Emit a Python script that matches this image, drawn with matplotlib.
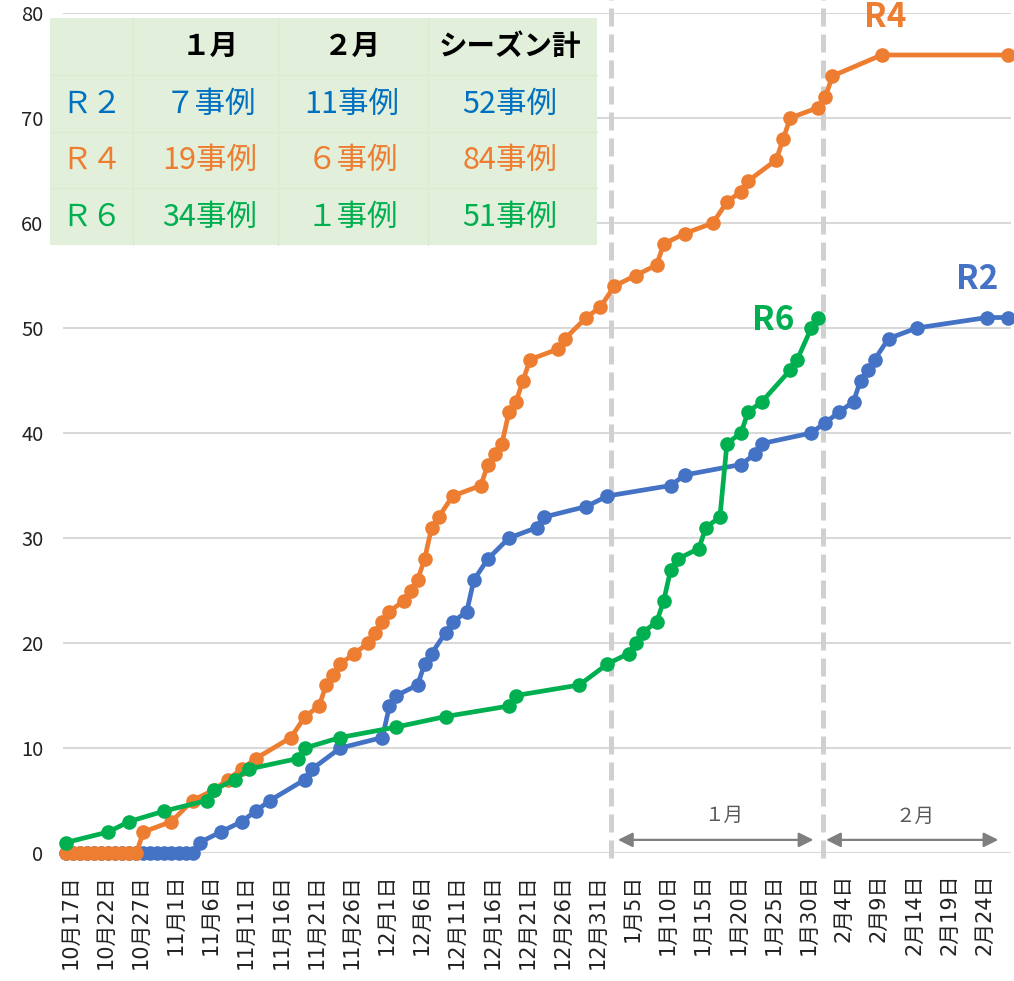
import numpy as np
import matplotlib
matplotlib.use('Agg')
import matplotlib.pyplot as plt
from matplotlib.patches import Rectangle

plt.rcParams['font.family'] = ['Noto Sans CJK JP', 'DejaVu Sans']

# day index: 0 = 10月17日
r2_days = list(range(0, 19)) + [19, 22, 25, 27, 29, 34, 35, 39, 45, 46, 47, 50, 51, 52, 54, 55, 57, 58,
                                 60, 63, 67, 68, 74, 77, 86, 88, 96, 98, 99, 106, 108, 110, 112, 113,
                                 114, 115, 117, 121, 131, 134]
r2_vals = [0] * 19 + [1, 2, 3, 4, 5, 7, 8, 10, 11, 14, 15, 16, 18, 19, 21, 22, 23, 26,
                      28, 30, 31, 32, 33, 34, 35, 36, 37, 38, 39, 40, 41, 42, 43, 45,
                      46, 47, 49, 50, 51, 51]

r4_days = list(range(0, 11)) + [11, 15, 18, 21, 23, 25, 27, 32, 34, 36, 37, 38, 39, 41, 43, 44, 45, 46,
                                 48, 49, 50, 51, 52, 53, 55, 59, 60, 61, 62, 63, 64, 65, 66, 70, 71,
                                 74, 76, 78, 81, 84, 85, 88, 92, 94, 96, 97, 101, 102, 103, 107, 108,
                                 109, 116, 134]
r4_vals = [0] * 11 + [2, 3, 5, 6, 7, 8, 9, 11, 13, 14, 16, 17, 18, 19, 20, 21, 22, 23,
                      24, 25, 26, 28, 31, 32, 34, 35, 37, 38, 39, 42, 43, 45, 47, 48, 49,
                      51, 52, 54, 55, 56, 58, 59, 60, 62, 63, 64, 66, 68, 70, 71, 72,
                      74, 76, 76]

r6_days = [0, 6, 9, 14, 20, 21, 24, 26, 33, 34, 39, 47, 54, 63, 64, 73, 77, 80, 81, 82, 84, 85, 86,
           87, 90, 91, 93, 94, 96, 97, 99, 103, 104, 106, 107]
r6_vals = [1, 2, 3, 4, 5, 6, 7, 8, 9, 10, 11, 12, 13, 14, 15, 16, 18, 19, 20, 21, 22, 24, 27,
           28, 29, 31, 32, 39, 40, 42, 43, 46, 47, 50, 51]

tick_days = list(range(0, 131, 5))
tick_labels = ['10月17日', '10月22日', '10月27日', '11月1日', '11月6日', '11月11日', '11月16日',
               '11月21日', '11月26日', '12月1日', '12月6日', '12月11日', '12月16日', '12月21日',
               '12月26日', '12月31日', '1月5日', '1月10日', '1月15日', '1月20日', '1月25日',
               '1月30日', '2月4日', '2月9日', '2月14日', '2月19日', '2月24日']

# summary table
seasons = ['Ｒ２', 'Ｒ４', 'Ｒ６']
jan_cases = [7, 19, 34]
feb_cases = [11, 6, 1]
season_total = [52, 84, 51]
headers = ['１月', '２月', 'シーズン計']

blue = '#4472C4'
orange = '#ED7D31'
green = '#00B050'
table_colors = ['#0070C0', '#ED7D31', '#00B050']


def zen(n):
    # single digits are written full width in the source table
    if n < 10:
        return chr(ord('０') + n)
    return str(n)


W, H = 1014, 981
fig = plt.figure(figsize=(W / 100, H / 100), dpi=100)
ax = fig.add_axes([63 / W, 1 - 853 / H, 948 / W, 840 / H])

for d, v, c in [(r2_days, r2_vals, blue), (r4_days, r4_vals, orange), (r6_days, r6_vals, green)]:
    ax.plot(d, v, color=c, lw=3.4, marker='o', ms=9.5, zorder=3, clip_on=False)

ax.set_xlim(-0.43, 134.4)
ax.set_ylim(0, 80)
ax.set_yticks(range(0, 81, 10))
ax.set_xticks(np.array(tick_days) + 0.6)
ax.set_xticklabels(tick_labels, rotation=90, fontsize=15, color='#222222',
                   family=['DejaVu Sans', 'Noto Sans CJK JP'])
ax.tick_params(axis='y', labelsize=14.5, colors='#222222', length=0, pad=14)
ax.tick_params(axis='x', length=0, pad=15)
ax.grid(axis='y', color='#D9D9D9', lw=1.5)
ax.set_axisbelow(True)
for s in ax.spines.values():
    s.set_visible(False)

# month boundaries
for xd in [77.5, 107.7]:
    ax.plot([xd, xd], [-0.5, 81.3], color='#D0D0D0', lw=3.6, dashes=(3.6, 1.6),
            clip_on=False, zorder=2)

# month arrows
arrow = dict(arrowstyle='<|-|>', color='#7F7F7F', lw=1.6, mutation_scale=22, shrinkA=0, shrinkB=0)
ax.annotate('', xy=(78.5, 1.25), xytext=(106.3, 1.25), arrowprops=arrow, zorder=4)
ax.annotate('', xy=(108.1, 1.25), xytext=(132.6, 1.25), arrowprops=arrow, zorder=4)
ax.text(93.5, 3.6, '１月', ha='center', va='center', fontsize=14, color='#595959')
ax.text(120.8, 3.5, '２月', ha='center', va='center', fontsize=14, color='#595959')

# series labels
ax.text(116.5, 79.6, 'R4', color=orange, fontsize=24, fontweight='bold', ha='center', va='center')
ax.text(129.6, 54.6, 'R2', color=blue, fontsize=24, fontweight='bold', ha='center', va='center')
ax.text(100.6, 50.7, 'R6', color=green, fontsize=24, fontweight='bold', ha='center', va='center')

# table box
box = Rectangle((50 / W, 1 - 245 / H), 547 / W, 227 / H, transform=fig.transFigure,
                facecolor='#E2EFDA', edgecolor='none', zorder=2.5, clip_on=False)
ax.add_patch(box)
for py in [75, 132, 188]:
    ax.plot([50 / W, 597 / W], [1 - py / H, 1 - py / H], color='#DCEBD2', lw=1,
            transform=fig.transFigure, clip_on=False, zorder=2.6)
for px in [133, 278, 428]:
    ax.plot([px / W, px / W], [1 - 18 / H, 1 - 245 / H], color='#DCEBD2', lw=1,
            transform=fig.transFigure, clip_on=False, zorder=2.6)

col_x = [92, 210, 352, 510]
row_y = [47, 104, 160, 217]
for j, h in enumerate(headers):
    fig.text(col_x[j + 1] / W, 1 - row_y[0] / H, h, ha='center', va='center', fontsize=20.5,
             fontweight='bold', color='black', zorder=5)
for i in range(3):
    y = 1 - row_y[i + 1] / H
    c = table_colors[i]
    fig.text(col_x[0] / W, y, seasons[i], ha='center', va='center', fontsize=22, color=c, zorder=5)
    fig.text(col_x[1] / W, y, zen(jan_cases[i]) + '事例', ha='center', va='center', fontsize=22, color=c, zorder=5)
    fig.text(col_x[2] / W, y, zen(feb_cases[i]) + '事例', ha='center', va='center', fontsize=22, color=c, zorder=5)
    fig.text(col_x[3] / W, y, zen(season_total[i]) + '事例', ha='center', va='center', fontsize=22, color=c, zorder=5)

fig.savefig('out.png', dpi=100)
